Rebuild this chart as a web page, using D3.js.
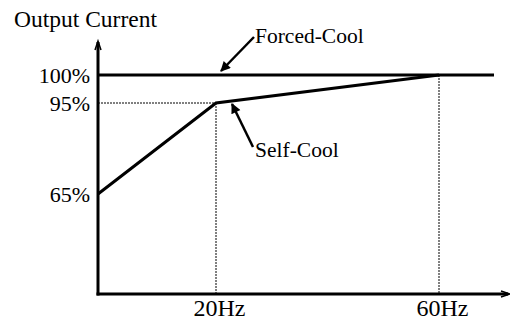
<!DOCTYPE html>
<html>
<head>
<meta charset="utf-8">
<script src="https://cdn.jsdelivr.net/npm/d3@7"></script>
<style>
  html, body { margin: 0; padding: 0; background: #fff; }
  svg { display: block; }
  text { font-family: "Liberation Serif", "Times New Roman", serif; fill: #000; }
</style>
</head>
<body>
<svg id="chart" width="510" height="320"></svg>
<script>
// Output current derating vs. output frequency
const freqTicks = [20, 60];
const freqTickLabels = ["20Hz", "60Hz"];
const currentTicks = [65, 95, 100];
const currentTickLabels = ["65%", "95%", "100%"];

const selfCoolHz = [0, 20, 60];
const selfCoolPct = [65, 95, 100];
const forcedCoolHz = [0, 70];
const forcedCoolPct = [100, 100];

const svg = d3.select("#chart");

// Piecewise scales (the drawing is schematic, not to scale)
const x = d3.scaleLinear().domain([0, 20, 60, 70, 73]).range([98, 216, 439, 494, 510]);
const y = d3.scaleLinear().domain([0, 65, 95, 100, 106]).range([294, 194, 103, 75, 41]);

// Dotted guide lines
const guides = svg.append("g")
  .attr("stroke", "#000").attr("stroke-width", 1).attr("stroke-dasharray", "2,1").attr("fill", "none");
guides.append("line")
  .attr("x1", x(0)).attr("x2", x(20)).attr("y1", y(95)).attr("y2", y(95));
guides.append("line")
  .attr("x1", x(20)).attr("x2", x(20)).attr("y1", y(95)).attr("y2", y(0));
guides.append("line")
  .attr("x1", x(60)).attr("x2", x(60)).attr("y1", y(100)).attr("y2", y(0));

// Axes lines with open arrow tips
const axes = svg.append("g").attr("stroke", "#000").attr("fill", "none");
axes.append("line").attr("stroke-width", 3)
  .attr("x1", x(0)).attr("x2", x(0)).attr("y1", y(0) + 1.5).attr("y2", y(106) + 1);
axes.append("path").attr("stroke-width", 1.5)
  .attr("d", `M${x(0) - 3},${y(106) + 9} L${x(0)},${y(106)} L${x(0) + 3},${y(106) + 9}`);
axes.append("line").attr("stroke-width", 3)
  .attr("x1", x(0) - 1.5).attr("x2", x(73) - 2).attr("y1", y(0)).attr("y2", y(0));
axes.append("path").attr("stroke-width", 1.5)
  .attr("d", `M${x(73) - 9},${y(0) - 3} L${x(73)},${y(0)} L${x(73) - 9},${y(0) + 3}`);

// Tick labels via d3 axes
const yAxis = d3.axisLeft(y).tickValues(currentTicks)
  .tickFormat((d, i) => currentTickLabels[i]).tickSize(0).tickPadding(8);
svg.append("g").attr("transform", `translate(${x(0)},0)`).call(yAxis)
  .call(g => g.select(".domain").remove())
  .call(g => g.selectAll("text").attr("font-size", 22).attr("font-family", null));

const xAxis = d3.axisBottom(x).tickValues(freqTicks)
  .tickFormat((d, i) => freqTickLabels[i]).tickSize(0).tickPadding(5);
svg.append("g").attr("transform", `translate(0,${y(0)})`).call(xAxis)
  .call(g => g.select(".domain").remove())
  .call(g => g.selectAll("text").attr("font-size", 24).attr("font-family", null).attr("dx", 3));

// Curves
const line = d3.line().x(d => x(d[0])).y(d => y(d[1]));
svg.append("path")
  .datum(forcedCoolHz.map((h, i) => [h, forcedCoolPct[i]]))
  .attr("d", line).attr("fill", "none").attr("stroke", "#000").attr("stroke-width", 3);
svg.append("path")
  .datum(selfCoolHz.map((h, i) => [h, selfCoolPct[i]]))
  .attr("d", line).attr("fill", "none").attr("stroke", "#000").attr("stroke-width", 3)
  .attr("stroke-linejoin", "miter");

// Axis title
svg.append("text").attr("x", 14).attr("y", 27).attr("font-size", 23.5).text("Output Current");

// Callouts with filled arrowheads
svg.append("defs").append("marker")
  .attr("id", "head").attr("viewBox", "0 0 10 10").attr("refX", 9).attr("refY", 5)
  .attr("markerWidth", 5).attr("markerHeight", 4).attr("markerUnits", "strokeWidth")
  .attr("orient", "auto")
  .append("path").attr("d", "M0,0 L10,5 L0,10 Z").attr("fill", "#000");

function callout(fromX, fromY, toX, toY, label, tx, ty) {
  svg.append("line")
    .attr("x1", fromX).attr("y1", fromY).attr("x2", toX).attr("y2", toY)
    .attr("stroke", "#000").attr("stroke-width", 2.5).attr("marker-end", "url(#head)");
  svg.append("text").attr("x", tx).attr("y", ty).attr("font-size", 21.5).text(label);
}
callout(254, 37, 221, 71, "Forced-Cool", 255, 43);
callout(253, 147, 232, 104, "Self-Cool", 255, 157);
</script>
</body>
</html>
